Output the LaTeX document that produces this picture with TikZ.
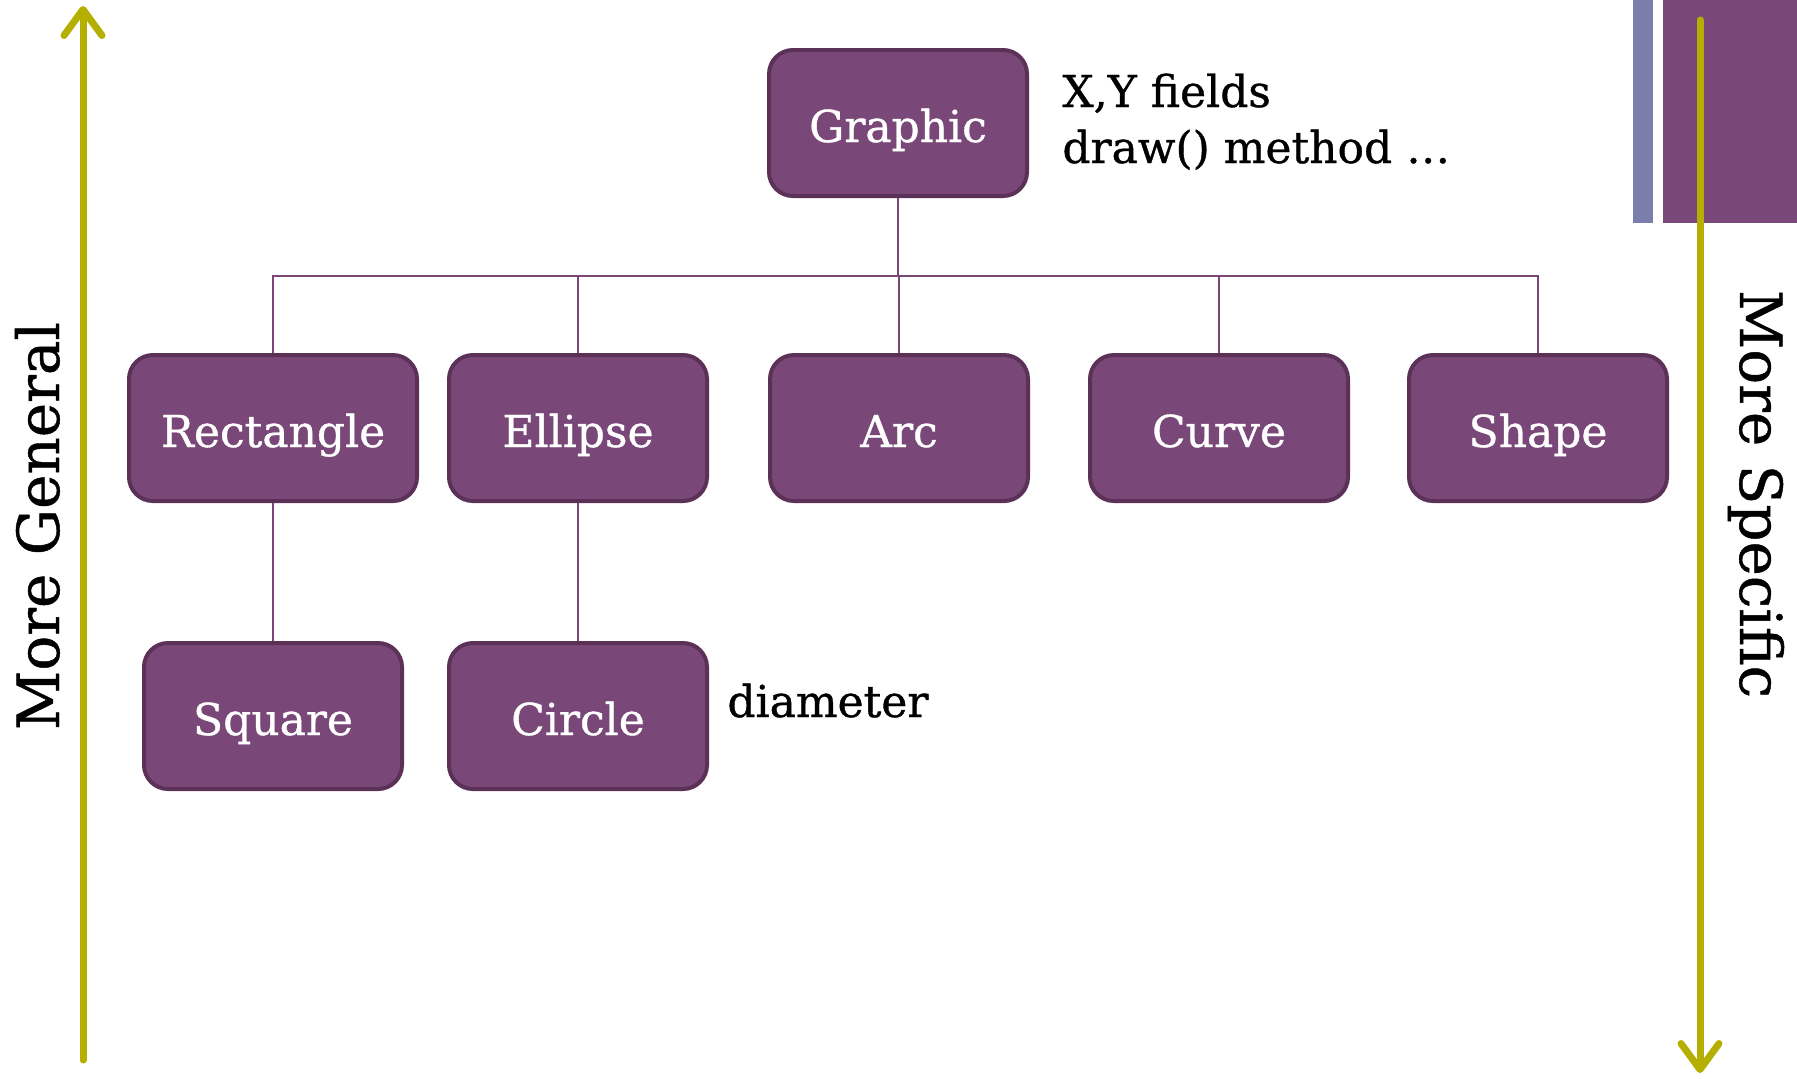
\documentclass[tikz,border=0pt]{standalone}
\usepackage{fontspec}
\setmainfont{DejaVu Serif}
\newfontface\slabface{DejaVu Serif}[FakeBold=0.8]
\usetikzlibrary{arrows.meta}
\definecolor{boxfill}{RGB}{122,72,120}
\definecolor{boxedge}{RGB}{92,49,88}
\definecolor{axisolive}{RGB}{180,175,0}
\definecolor{slate}{RGB}{122,126,170}
\tikzset{
  cls/.style={draw=boxedge, fill=boxfill, line width=2pt, rounded corners=12pt,
    minimum width=129pt, minimum height=73pt, text=white, inner sep=0pt,
    text height=19pt, text depth=0pt,
    font=\slabface\fontsize{22}{26}\selectfont},
  conn/.style={draw=boxfill, line width=1.3pt},
  axisarrow/.style={draw=axisolive, line width=3.5pt, line cap=round,
    -{Straight Barb[round,length=13pt,width=19pt]}},
  note/.style={font=\slabface\fontsize{22}{26}\selectfont, anchor=base west, inner sep=0pt},
  side/.style={font=\slabface\fontsize{29}{33}\selectfont, inner sep=0pt, anchor=base},
}
\begin{document}
\begin{tikzpicture}[x=0.5pt,y=-0.5pt]
\useasboundingbox (0,0) rectangle (1797,1078);

% corner bars
\fill[slate] (1633,0) rectangle (1653,223);
\fill[boxfill] (1663,0) rectangle (1797,223);

% class boxes
\node[cls] (graphic) at (898,123) {Graphic};
\node[cls, minimum width=144pt] (rect) at (273,428) {Rectangle};
\node[cls] (ellipse) at (578,428) {Ellipse};
\node[cls] (arc) at (899,428) {Arc};
\node[cls] (curve) at (1219,428) {Curve};
\node[cls] (shape) at (1538,428) {Shape};
\node[cls] (square) at (273,716) {Square};
\node[cls] (circle) at (578,716) {Circle};

% tree connectors
\coordinate (bus) at (0,276);
\foreach \c in {rect,ellipse,arc,curve,shape}
  \draw[conn] (graphic.south) -- (graphic.south |- bus) -| (\c.north);
\draw[conn] (rect.south) -- (square.north);
\draw[conn] (ellipse.south) -- (circle.north);

% annotations
\node[note] (fields) at (1062,107) {X,Y fields};
\node[note] (method) at (1062,163) {draw() method …};
\node[note] (diam) at (727,717) {diameter};

% generality axes
\coordinate (genlow) at (83,1060);
\coordinate (genhigh) at (83,6);
\draw[axisarrow] (genlow) -- (genhigh);
\coordinate (spectop) at (1700,20);
\coordinate (specbot) at (1700,1073);
\draw[axisarrow] (spectop) -- (specbot);

\node[side, rotate=90] (general) at (59,526) {More General};
\node[side, rotate=-90] (specific) at (1740,494) {More Specific};
\end{tikzpicture}
\end{document}
